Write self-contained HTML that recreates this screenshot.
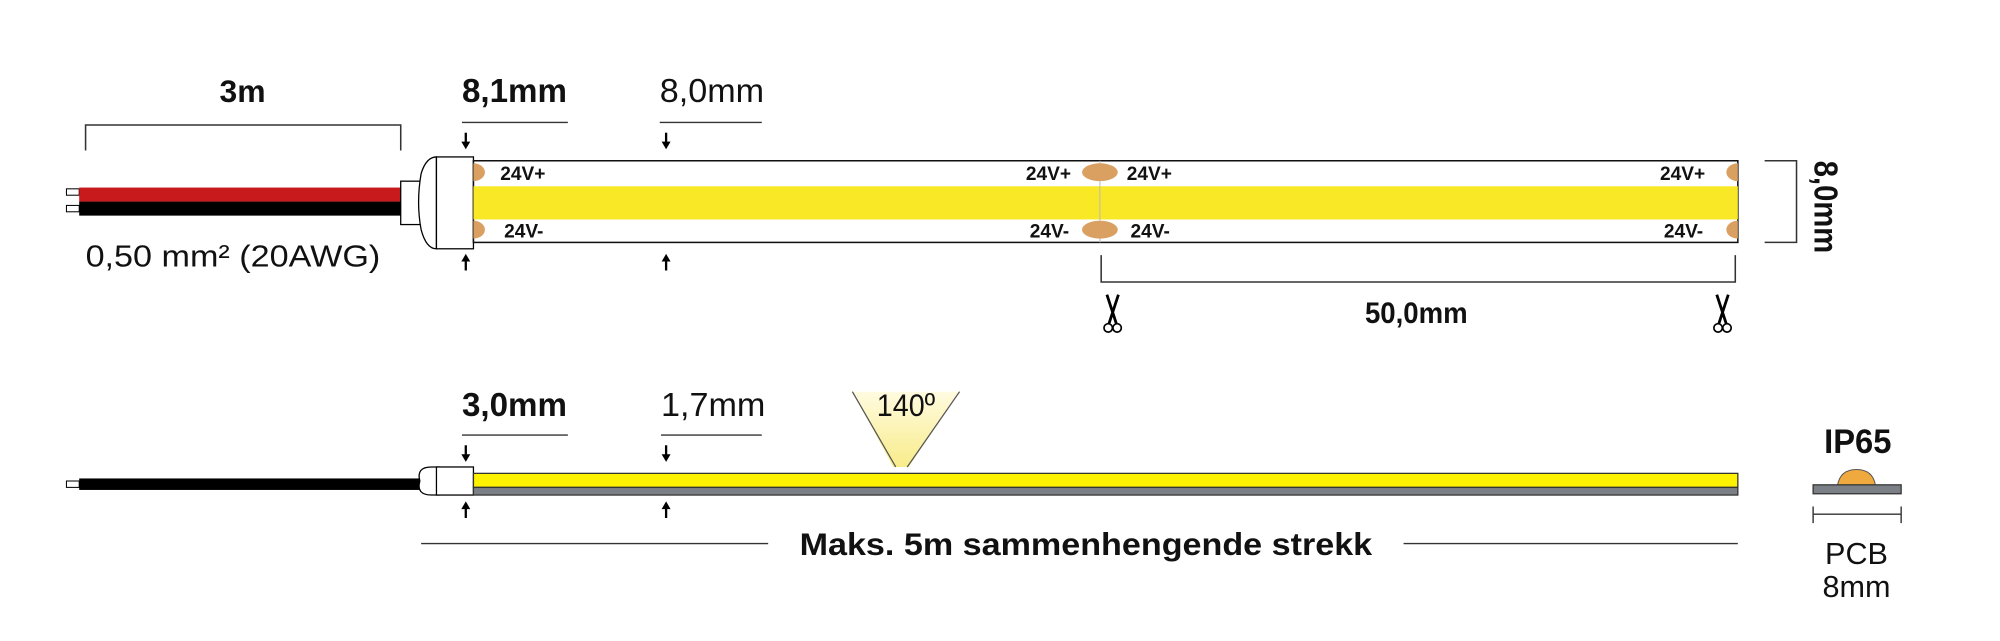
<!DOCTYPE html>
<html><head><meta charset="utf-8"><style>
html,body{margin:0;padding:0;background:#fff;}
svg{display:block;}
text{font-family:"Liberation Sans",sans-serif;fill:#111;}
.b{font-weight:bold;}
</style></head><body>
<svg width="2000" height="641" viewBox="0 0 1567.4 502.4" xmlns="http://www.w3.org/2000/svg">
<defs>
<linearGradient id="cone" x1="0" y1="0" x2="0" y2="1">
<stop offset="0" stop-color="#fffbe0"/><stop offset="1" stop-color="#f8ec8a"/>
</linearGradient>
<g id="arD"><line x1="0" y1="0" x2="0" y2="9" stroke="#000" stroke-width="1.8"/><path d="M-3.5,7 L3.5,7 L0,13 Z" fill="#000"/></g>
<g id="arU"><line x1="0" y1="13" x2="0" y2="4" stroke="#000" stroke-width="1.8"/><path d="M-3.5,6 L3.5,6 L0,0 Z" fill="#000"/></g>
<g id="sc" fill="none" stroke="#000">
<path d="M-4.5,-4 L3,19 M4.5,-4 L-3,19" stroke-width="2.2"/><circle cx="-3.5" cy="22" r="3.3" stroke-width="1.3"/><circle cx="3.5" cy="22" r="3.3" stroke-width="1.3"/>
</g>
</defs>

<!-- ===== TOP ROW ===== -->
<text transform="translate(190,80) scale(1.0,1)" class="b" font-size="25" text-anchor="middle">3m</text>
<path d="M67,118 V98 H314 V118" fill="none" stroke="#333" stroke-width="1.2"/>

<text transform="translate(362,80) scale(1.0,1)" class="b" font-size="26">8,1mm</text>
<line x1="362" y1="96" x2="445" y2="96" stroke="#333" stroke-width="1.1"/>
<text transform="translate(517,80) scale(1.03,1)" font-size="26">8,0mm</text>
<line x1="517" y1="96" x2="597" y2="96" stroke="#333" stroke-width="1.1"/>
<use href="#arD" x="365" y="104"/><use href="#arD" x="522" y="104"/>
<use href="#arU" x="365" y="199"/><use href="#arU" x="522" y="199"/>

<!-- wires -->
<rect x="52" y="148" width="10" height="5" fill="#fff" stroke="#000" stroke-width="0.8"/>
<rect x="52" y="161" width="10" height="5" fill="#fff" stroke="#000" stroke-width="0.8"/>
<rect x="62" y="147" width="254" height="11" fill="#c8191c"/>
<rect x="62" y="158" width="254" height="11" fill="#000"/>
<rect x="314" y="142" width="18" height="34" fill="#fff" stroke="#000" stroke-width="1"/>
<path d="M342,123 Q334,123 330,136 Q326,159 330,180 Q334,195 342,195 Z" fill="#fff" stroke="#000" stroke-width="1"/>
<rect x="342" y="123" width="29" height="72" fill="#fff" stroke="#000" stroke-width="1"/>
<text x="67" y="209" font-size="24" textLength="231" lengthAdjust="spacingAndGlyphs">0,50 mm² (20AWG)</text>

<!-- strip -->
<rect x="371" y="126" width="991" height="64" fill="#fff" stroke="#111" stroke-width="1.2"/>
<rect x="371" y="146" width="991" height="26" fill="#f8e825"/>
<line x1="862" y1="126" x2="862" y2="190" stroke="#bbb" stroke-width="0.8"/>
<g fill="#d9a062">
<path d="M371,128 A9,7 0 0 1 371,142 Z"/>
<path d="M371,173 A9,7 0 0 1 371,187 Z"/>
<ellipse cx="862" cy="135" rx="14" ry="7"/>
<ellipse cx="862" cy="180" rx="14" ry="7"/>
<path d="M1362,128 A9,7 0 0 0 1362,142 Z"/>
<path d="M1362,173 A9,7 0 0 0 1362,187 Z"/>
</g>
<g class="b" font-size="15" font-weight="bold">
<text transform="translate(392,141) scale(1.0,1)">24V+</text><text transform="translate(395,186) scale(1.0,1)">24V-</text>
<text transform="translate(804,141) scale(1.0,1)">24V+</text><text transform="translate(807,186) scale(1.0,1)">24V-</text>
<text transform="translate(883,141) scale(1.0,1)">24V+</text><text transform="translate(886,186) scale(1.0,1)">24V-</text>
<text transform="translate(1301,141) scale(1.0,1)">24V+</text><text transform="translate(1304,186) scale(1.0,1)">24V-</text>
</g>

<path d="M1383,126 H1408 V190 H1383" fill="none" stroke="#333" stroke-width="1.2"/>
<text transform="translate(1422,126) rotate(90) scale(0.88,1)" class="b" font-size="26">8,0mm</text>

<path d="M863,200 V221 H1360 V200" fill="none" stroke="#333" stroke-width="1.2"/>
<use href="#sc" x="872" y="235"/><use href="#sc" x="1350" y="235"/>
<text transform="translate(1110,253) scale(0.94,1)" class="b" font-size="23" text-anchor="middle">50,0mm</text>

<!-- ===== BOTTOM ROW ===== -->
<text transform="translate(362,326) scale(1.0,1)" class="b" font-size="26">3,0mm</text>
<line x1="362" y1="341" x2="445" y2="341" stroke="#333" stroke-width="1.1"/>
<text transform="translate(518,326) scale(1.03,1)" font-size="26">1,7mm</text>
<line x1="518" y1="341" x2="597" y2="341" stroke="#333" stroke-width="1.1"/>
<use href="#arD" x="365" y="349"/><use href="#arD" x="522" y="349"/>
<use href="#arU" x="365" y="393"/><use href="#arU" x="522" y="393"/>

<path d="M668,307 L752,307 L712,366 L700,366 Z" fill="url(#cone)"/>
<path d="M668,307 L702,366 M752,307 L711,366" stroke="#555" stroke-width="1" fill="none"/>
<text transform="translate(710,326) scale(0.9,1)" font-size="25" text-anchor="middle">140º</text>

<rect x="52" y="377" width="10" height="5" fill="#fff" stroke="#000" stroke-width="0.8"/>
<rect x="62" y="375" width="272" height="9" fill="#000"/>
<path d="M344,366 H338 Q326,366 329,377 Q326,388 338,388 H344 Z" fill="#fff" stroke="#000" stroke-width="1"/>
<rect x="342" y="366" width="29" height="22" fill="#fff" stroke="#000" stroke-width="1"/>
<rect x="371" y="371" width="991" height="11" fill="#fff200" stroke="#333" stroke-width="1"/>
<rect x="371" y="382" width="991" height="6" fill="#7a8085" stroke="#333" stroke-width="1"/>

<line x1="330" y1="426" x2="602" y2="426" stroke="#333" stroke-width="1.1"/>
<text transform="translate(851,435) scale(1.07,1)" class="b" font-size="25" text-anchor="middle">Maks. 5m sammenhengende strekk</text>
<line x1="1100" y1="426" x2="1362" y2="426" stroke="#333" stroke-width="1.1"/>

<text transform="translate(1456,355) scale(0.95,1)" class="b" font-size="27" text-anchor="middle">IP65</text>
<path d="M1440,381 Q1442,368 1455,368 Q1468,368 1470,381 Z" fill="#f0a93e" stroke="#555" stroke-width="0.8"/>
<rect x="1421" y="380" width="69" height="7" fill="#7a8085" stroke="#333" stroke-width="1"/>
<path d="M1421,397 V410 M1421,403 H1490 M1490,397 V410" stroke="#333" stroke-width="1.1" fill="none"/>
<text transform="translate(1455,442) scale(1.0,1)" font-size="24" text-anchor="middle">PCB</text>
<text transform="translate(1455,468) scale(1.0,1)" font-size="24" text-anchor="middle">8mm</text>
</svg>
</body></html>
